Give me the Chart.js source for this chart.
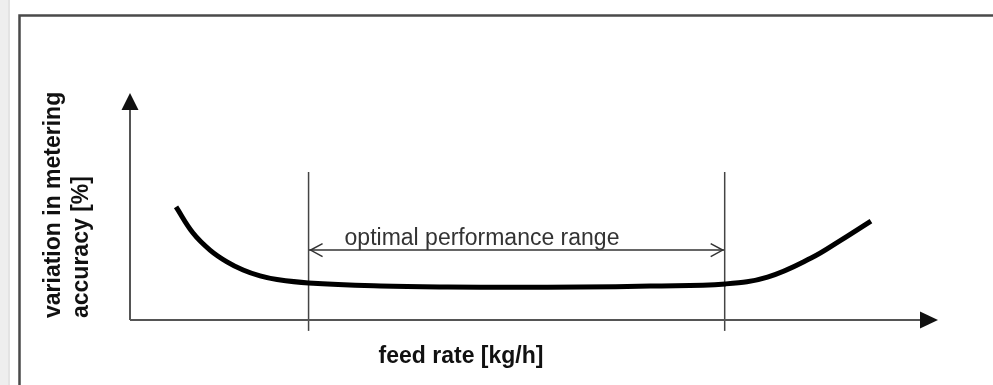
<!DOCTYPE html>
<html>
<head>
<meta charset="utf-8">
<script src="https://cdn.jsdelivr.net/npm/chart.js@4/dist/chart.umd.min.js"></script>
<style>
  html, body { margin: 0; padding: 0; background: #fff; }
  canvas { display: block; }
</style>
</head>
<body>
<canvas id="c" width="993" height="385"></canvas>
<script>
const feedRate  = [5.7, 7.8, 9.9, 12.0, 14.0, 16.1, 18.2, 22.1, 31.0, 39.3, 47.5, 55.8, 64.4, 73.7, 78.9, 84.3, 88.0, 91.7];
const variation = [49.8, 38.3, 30.8, 25.6, 22.0, 19.4, 17.8, 16.3, 15.0, 14.5, 14.4, 14.5, 15.0, 15.9, 18.9, 27.3, 35.2, 43.6];
const optimalRange = [22.1, 73.6];      // x positions of the two boundary lines
const boundaryLineY = [-4.8, 65.2];     // vertical extent of the boundary lines
const rangeArrowY = 30.8;               // level of the double arrow
const rangeLabel = "optimal performance range";
const xTitle = "feed rate [kg/h]";
const yTitle = ["variation in metering", "accuracy [%]"];

const FONT = "'Liberation Sans', Arial, Helvetica, sans-serif";

const decor = {
  id: 'decor',
  beforeDraw(chart) {
    const ctx = chart.ctx;
    ctx.save();
    ctx.fillStyle = '#fff';
    ctx.fillRect(0, 0, chart.width, chart.height);
    // light gray page strip on the left
    ctx.fillStyle = '#eeeeee';
    ctx.fillRect(0, 0, 10, chart.height);
    ctx.fillStyle = '#e3e3e3';
    ctx.fillRect(8, 0, 2, chart.height);
    // frame
    ctx.strokeStyle = '#4a4a4a';
    ctx.lineWidth = 2.5;
    ctx.beginPath();
    ctx.moveTo(19.5, chart.height);
    ctx.lineTo(19.5, 15.5);
    ctx.lineTo(chart.width, 15.5);
    ctx.stroke();
    ctx.restore();
  },
  afterDatasetsDraw(chart) {
    const ctx = chart.ctx;
    const xs = chart.scales.x, ys = chart.scales.y;
    const x0 = xs.getPixelForValue(0), x1 = xs.getPixelForValue(100);
    const y0 = ys.getPixelForValue(0), y1 = ys.getPixelForValue(100);
    ctx.save();
    // axes
    ctx.strokeStyle = '#555';
    ctx.lineWidth = 2;
    ctx.beginPath();
    ctx.moveTo(x0, y0); ctx.lineTo(x1 - 16, y0);
    ctx.moveTo(x0, y0); ctx.lineTo(x0, y1 + 15);
    ctx.stroke();
    ctx.fillStyle = '#111';
    ctx.beginPath();
    ctx.moveTo(x1, y0); ctx.lineTo(x1 - 18, y0 - 8.5); ctx.lineTo(x1 - 18, y0 + 8.5); ctx.closePath();
    ctx.fill();
    ctx.beginPath();
    ctx.moveTo(x0, y1); ctx.lineTo(x0 - 8.5, y1 + 17); ctx.lineTo(x0 + 8.5, y1 + 17); ctx.closePath();
    ctx.fill();
    // open arrow heads of the range arrow
    const ay = ys.getPixelForValue(rangeArrowY);
    const al = xs.getPixelForValue(optimalRange[0]) + 2;
    const ar = xs.getPixelForValue(optimalRange[1]) - 2;
    ctx.strokeStyle = '#333';
    ctx.lineWidth = 1.5;
    ctx.beginPath();
    ctx.moveTo(al + 12, ay - 6.5); ctx.lineTo(al, ay); ctx.lineTo(al + 12, ay + 6.5);
    ctx.moveTo(ar - 12, ay - 6.5); ctx.lineTo(ar, ay); ctx.lineTo(ar - 12, ay + 6.5);
    ctx.stroke();
    // range label
    ctx.fillStyle = '#333';
    ctx.font = '23px ' + FONT;
    ctx.textAlign = 'center';
    ctx.textBaseline = 'alphabetic';
    ctx.fillText(rangeLabel, 482, ay - 5);
    // axis titles
    ctx.fillStyle = '#111';
    ctx.font = 'bold 23px ' + FONT;
    ctx.fillText(xTitle, 461, 363);
    ctx.save();
    ctx.translate(0, 318);
    ctx.rotate(-Math.PI / 2);
    ctx.textAlign = 'left';
    ctx.fillText(yTitle[0], 0, 60);
    ctx.fillText(yTitle[1], 0, 88);
    ctx.restore();
    ctx.restore();
  }
};

new Chart(document.getElementById('c'), {
  type: 'scatter',
  data: {
    datasets: [
      {
        data: feedRate.map((x, i) => ({ x, y: variation[i] })),
        showLine: true, borderColor: '#000', borderWidth: 5,
        pointRadius: 0, tension: 0.4, borderCapStyle: 'butt', borderJoinStyle: 'round', clip: false
      },
      {
        data: [{ x: optimalRange[0], y: boundaryLineY[0] }, { x: optimalRange[0], y: boundaryLineY[1] }],
        showLine: true, borderColor: '#444', borderWidth: 1.5, pointRadius: 0, clip: false
      },
      {
        data: [{ x: optimalRange[1], y: boundaryLineY[0] }, { x: optimalRange[1], y: boundaryLineY[1] }],
        showLine: true, borderColor: '#444', borderWidth: 1.5, pointRadius: 0, clip: false
      },
      {
        data: [{ x: optimalRange[0], y: rangeArrowY }, { x: optimalRange[1], y: rangeArrowY }],
        showLine: true, borderColor: '#333', borderWidth: 1.5, pointRadius: 0, clip: false
      }
    ]
  },
  options: {
    responsive: false,
    animation: false,
    devicePixelRatio: 1,
    layout: { padding: { left: 130, right: 55, top: 93, bottom: 65 } },
    scales: {
      x: { type: 'linear', min: 0, max: 100, display: false },
      y: { type: 'linear', min: 0, max: 100, display: false }
    },
    plugins: { legend: { display: false }, tooltip: { enabled: false } }
  },
  plugins: [decor]
});
</script>
</body>
</html>
